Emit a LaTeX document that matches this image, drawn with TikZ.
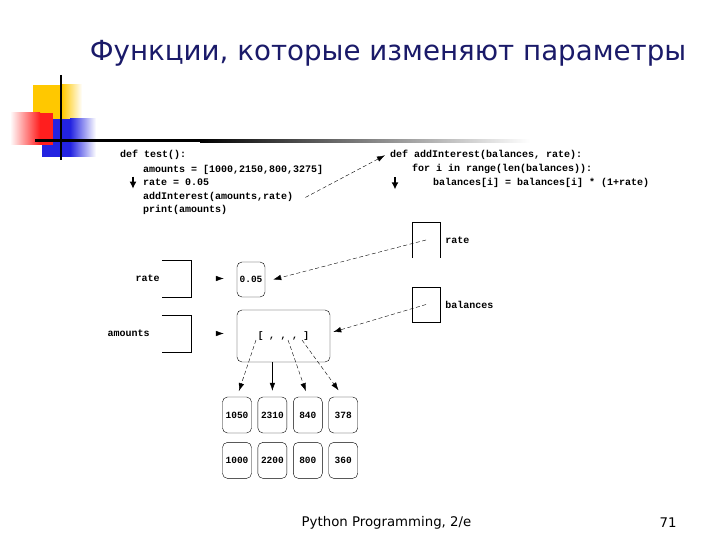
\documentclass[tikz,border=0pt]{standalone}
\usepackage{fontspec}
\setmainfont{DejaVu Sans}
\setmonofont{Liberation Mono}
\usetikzlibrary{positioning, calc, arrows.meta}
\definecolor{titleblue}{RGB}{26,26,105}
\definecolor{barred}{RGB}{255,30,30}
\definecolor{baryellow}{RGB}{255,200,0}
\definecolor{barblue}{RGB}{35,35,225}
\tikzset{code/.style={anchor=base west, font=\ttfamily\bfseries\fontsize{10}{12}\selectfont, inner sep=0pt},
frame/.style={minimum width=29pt, minimum height=37pt, inner sep=0pt},
obj/.style={draw, rounded corners=5pt, inner sep=0pt, font=\ttfamily\bfseries\fontsize{9.5}{11}\selectfont},
numbox/.style={obj, minimum width=29pt, minimum height=36pt},
line/.style={-{Latex[length=8pt,width=5.5pt]}},
ref/.style={line, dash pattern=on 4pt off 2.5pt},
marker/.style={-{Latex[length=7pt,width=7pt]}, line width=2pt}
}

\begin{document}
\begin{tikzpicture}[x=1pt,y=-1pt]
\useasboundingbox (0,0) rectangle (720,540);
 % the coloured squares and bars of the slide
 \fill[baryellow] (33,85) rectangle (62,120);
 \shade[left color=baryellow, right color=white] (62,85) rectangle (82,120);
 \fill[barblue] (42,119) rectangle (70,157);
 \shade[left color=barblue, right color=white] (70,119) rectangle (96,157);
 \shade[left color=white, right color=barred] (10,113) rectangle (40,145);
 \fill[barred] (40,113) rectangle (53,145);
 \fill[black] (35,139.5) rectangle (200,142.5);
 \shade[left color=black, right color=white] (200,139.5) rectangle (530,142.5);
 \draw[line width=2pt] (61,75) -- (61,160);
\node[anchor=base, font=\fontsize{27.7}{33}\selectfont, text=titleblue] (title) at (388,61) {Функции, которые изменяют параметры};
 % the calling function
\node[code] (t1) at (120,158) {def test():};
\node[code] (t2) at (143,173) {amounts = [1000,2150,800,3275]};
\node[code] (t3) at (143,186) {rate = 0.05};
\node[code] (t4) at (143,200) {addInterest(amounts,rate)};
\node[code] (t5) at (143,213) {print(amounts)};
 % the called function
\node[code] (a1) at (390,158) {def addInterest(balances, rate):};
\node[code] (a2) at (412,172) {for i in range(len(balances)):};
\node[code] (a3) at (433,186) {balances[i] = balances[i] * (1+rate)};
  \draw[ref] ([xshift=12pt]t4.east) -- ([xshift=-5pt]a1.west);
  \draw[marker] ([xshift=-10pt,yshift=6pt]t3.west) -- ([xshift=-10pt,yshift=-6pt]t3.west);
  \draw[marker] ([xshift=-38pt,yshift=6pt]a3.west) -- ([xshift=-38pt,yshift=-6pt]a3.west);
 % variables of test
\node[frame] (vrate) at (176.5,278.5) {};
\node[code, anchor=east] (lrate) [left=2pt of vrate] {rate};
\node[frame] (vamt) at (176.5,333.5) {};
\node[code, anchor=east] (lamt) [left=12pt of vamt] {amounts};
  \draw (vrate.north west) -- (vrate.north east) -- (vrate.south east) -- (vrate.south west);
  \draw (vamt.north west) -- (vamt.north east) -- (vamt.south east) -- (vamt.south west);
 % the objects
\node[obj, minimum width=28pt, minimum height=35pt] (val) at (251,279.5) {0.05};
\node[obj, minimum width=93pt, minimum height=52pt] (lst) at (283.5,336) {[ , , , ]};
  \draw[line, shorten <=25pt, shorten >=13pt] (vrate.east) -- (vrate.east -| val.west);
  \draw[line, shorten <=25pt, shorten >=13pt] (vamt.east) -- (vamt.east -| lst.west);
 % parameters of addInterest
\node[frame, minimum width=28pt, minimum height=36pt] (prate) at (426,240) {};
\node[code, anchor=west] (lprate) [right=5pt of prate] {rate};
\node[frame, draw, minimum width=28pt, minimum height=35pt] (pbal) at (426,304.5) {};
\node[code, anchor=west] (lpbal) [right=5pt of pbal] {balances};
  \draw (prate.south west) -- (prate.north west) -- (prate.north east) -- (prate.south east);
  \draw[ref] (prate.center) -- ([xshift=8pt]val.east);
  \draw[ref] (pbal.center) -- ([xshift=3pt,yshift=4pt]lst.east);
 % the numbers
\node[numbox] (n1) at (237,415) {1050};
\node[numbox, right=6pt of n1] (n2) {2310};
\node[numbox, right=6pt of n2] (n3) {840};
\node[numbox, right=6pt of n3] (n4) {378};
\node[numbox, below=9pt of n1] (m1) {1000};
\node[numbox, below=9pt of n2] (m2) {2200};
\node[numbox, below=9pt of n3] (m3) {800};
\node[numbox, below=9pt of n4] (m4) {360};
\coordinate (s1) at (256,340);
\coordinate (s3) at (288,340);
\coordinate (s4) at (302,340);
  \draw[ref, shorten >=6pt] (s1) -- (n1.north);
  \draw[line, shorten >=6pt] (lst.south -| n2.north) -- (n2.north);
  \draw[ref, shorten >=6pt] (s3) -- (n3.north);
  \draw[ref, shorten >=8pt] (s4) -- (n4.north);
 % footer
\node[font=\fontsize{13.3}{15}\selectfont] (foot) at (386.5,523) {Python Programming, 2/e};
\node[font=\fontsize{13.3}{15}\selectfont] (page) at (668,523) {71};
\end{tikzpicture}
\end{document}
